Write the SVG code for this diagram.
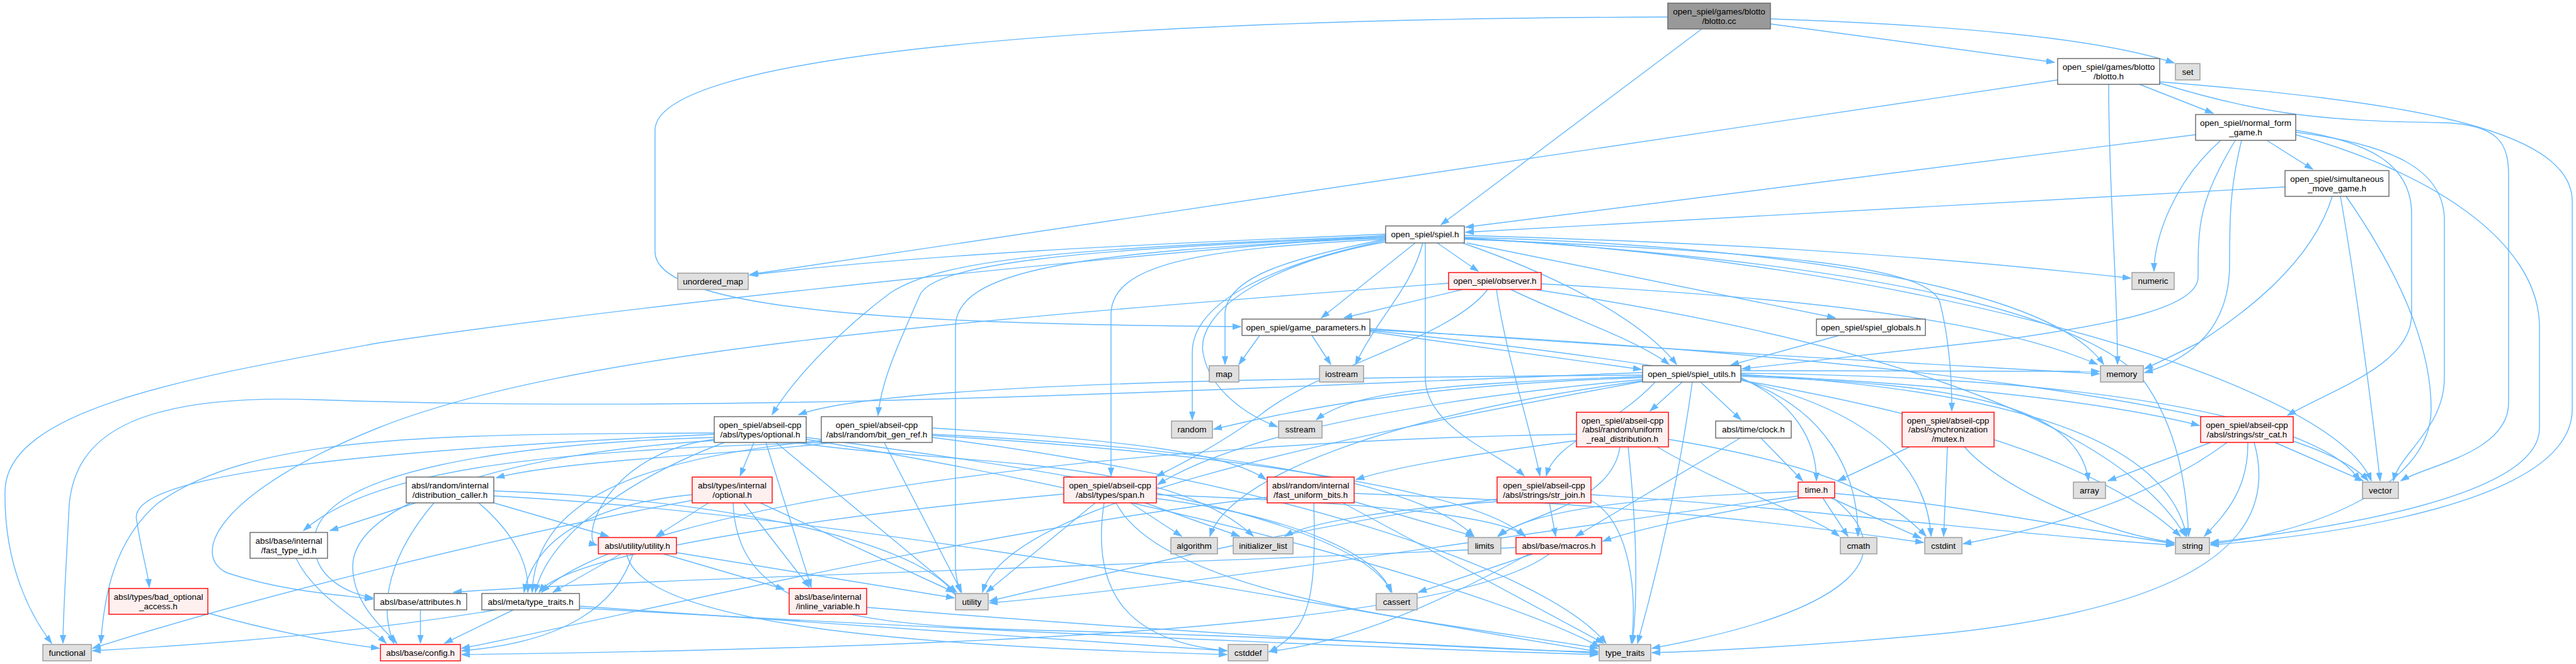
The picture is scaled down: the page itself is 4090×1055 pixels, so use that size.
<svg xmlns="http://www.w3.org/2000/svg" width="4090" height="1055" viewBox="0 0 4090 1055">
<style>
rect{stroke-width:1.4}
.w{fill:#ffffff;stroke:#666666}
.r{fill:#fff0f0;stroke:#ff0000}
.g{fill:#e0e0e0;stroke:#999999}
.k{fill:#999999;stroke:#666666}
text{font-family:"Liberation Sans",Arial,sans-serif;font-size:13.5px;fill:#000000;text-anchor:middle}
.e{fill:none;stroke:#63b8ff;stroke-width:1.4;marker-end:url(#ah)}
</style>
<defs>
<marker id="ah" markerUnits="userSpaceOnUse" markerWidth="14" markerHeight="10" refX="13" refY="5" orient="auto"><path d="M0,0.5 L13,5 L0,9.5 Z" fill="#63b8ff" stroke="#63b8ff" stroke-width="1"/></marker>
</defs>
<rect x="0" y="0" width="4090" height="1055" fill="#ffffff"/>
<g id="edges">
<path class="e" d="M2811,38 L3262,99"/>
<path class="e" d="M2811,30 C3100,40 3330,60 3452,100"/>
<path class="e" d="M2702,46 L2288,357"/>
<path class="e" d="M2648,27 C1700,30 1040,90 1040,207 L1040,400 C1040,500 1500,515 1970,519"/>
<path class="e" d="M3267,127 L1191,436"/>
<path class="e" d="M3348,134 C3348,300 3362,450 3362,579"/>
<path class="e" d="M3397,134 L3514,180"/>
<path class="e" d="M3429,132 C3600,185 3700,192 3880,195 C3970,198 3983,230 3983,280 L3983,640 C3983,720 3850,740 3812,764"/>
<path class="e" d="M3429,130 C3800,160 4084,200 4084,320 L4084,650 C4084,800 3700,850 3510,866"/>
<path class="e" d="M3486,214 L2327,361"/>
<path class="e" d="M3526,223 C3450,290 3420,380 3420,431"/>
<path class="e" d="M3599,223 L3672,269"/>
<path class="e" d="M3549,223 C3490,320 3490,360 3490,440 C3490,490 3350,515 3201,537 L2766,586"/>
<path class="e" d="M3559,223 C3540,300 3540,350 3540,420 C3540,520 3480,570 3405,592"/>
<path class="e" d="M3645,207 C3760,225 3829,260 3829,340 L3829,500 C3829,580 3700,620 3632,660"/>
<path class="e" d="M3645,210 C3800,230 3881,270 3881,350 L3881,600 C3881,680 3810,720 3800,764"/>
<path class="e" d="M3645,214 C3850,270 4032,380 4032,520 L4032,680 C4032,790 3700,840 3510,862"/>
<path class="e" d="M3628,297 L2327,369"/>
<path class="e" d="M3703,312 C3670,420 3560,500 3490,545 C3450,565 3430,575 3405,586"/>
<path class="e" d="M3716,312 C3740,450 3760,600 3779,764"/>
<path class="e" d="M3725,312 C3800,420 3860,540 3860,650 C3860,780 3650,850 3510,864"/>
<path class="e" d="M2200,372 C1900,385 1500,400 1190,437"/>
<path class="e" d="M2200,374 C1600,420 900,500 600,545 C300,600 10,650 8,780 C6,900 50,980 82,1022"/>
<path class="e" d="M2325,374 C2700,385 3000,400 3383,442"/>
<path class="e" d="M2247,386 L2098,505"/>
<path class="e" d="M2282,386 L2347,431"/>
<path class="e" d="M2329,386 L2914,505"/>
<path class="e" d="M2322,386 C2450,430 2600,500 2662,579"/>
<path class="e" d="M2259,386 C2240,460 2190,500 2152,579"/>
<path class="e" d="M2263,386 L2263,600 C2263,680 2380,720 2420,756"/>
<path class="e" d="M2200,380 C2050,410 1945,440 1945,500 L1945,579"/>
<path class="e" d="M2200,382 C2020,420 1893,480 1893,560 L1893,667"/>
<path class="e" d="M2202,384 C2000,420 1900,500 1910,560 C1920,620 1980,660 2028,678"/>
<path class="e" d="M2200,378 C1700,400 1517,430 1517,520 L1517,900 C1517,920 1522,930 1525,941"/>
<path class="e" d="M2200,380 C1900,395 1764,420 1764,500 L1764,756"/>
<path class="e" d="M2200,375 C1700,395 1500,410 1414,465 C1340,520 1260,600 1226,659"/>
<path class="e" d="M2200,377 C1700,395 1480,420 1460,470 C1430,540 1400,600 1394,660"/>
<path class="e" d="M2325,380 C2800,400 3060,420 3080,480 C3095,540 3099,600 3099,653"/>
<path class="e" d="M2325,377 C2800,390 3250,450 3340,579"/>
<path class="e" d="M2325,378 C3000,420 3300,500 3400,600 C3460,680 3472,780 3475,852"/>
<path class="e" d="M2325,379 C3000,410 3700,600 3765,764"/>
<path class="e" d="M2322,460 L2134,505"/>
<path class="e" d="M2362,460 C2300,540 2100,580 2000,660 C1930,710 1870,740 1836,757"/>
<path class="e" d="M2376,460 C2390,560 2430,680 2445,756"/>
<path class="e" d="M2399,460 C2480,500 2600,540 2650,579"/>
<path class="e" d="M2300,450 C1500,510 900,560 600,680 C350,780 300,880 360,910 C450,940 540,945 592,952"/>
<path class="e" d="M2447,451 C2800,470 3150,500 3330,579"/>
<path class="e" d="M2437,460 C2900,530 3350,650 3470,852"/>
<path class="e" d="M2000,533 L1967,579"/>
<path class="e" d="M2083,533 L2113,579"/>
<path class="e" d="M2175,527 L2606,587"/>
<path class="e" d="M2175,522 C2700,560 3100,580 3333,594"/>
<path class="e" d="M2175,525 C2900,600 3300,700 3462,852"/>
<path class="e" d="M2175,524 C2900,560 3650,640 3760,764"/>
<path class="e" d="M2920,533 L2748,580"/>
<path class="e" d="M2608,592 C2000,614 1200,660 500,635 C200,625 120,700 110,800 C105,900 100,980 100,1022"/>
<path class="e" d="M2608,598 C2300,610 2150,620 2090,667"/>
<path class="e" d="M2608,596 C2000,600 1400,610 1268,659"/>
<path class="e" d="M2608,600 C2300,610 2100,640 1927,682"/>
<path class="e" d="M2608,603 C2200,640 1950,700 1838,770"/>
<path class="e" d="M2628,607 C2560,680 2470,700 2455,756"/>
<path class="e" d="M2671,607 L2620,653"/>
<path class="e" d="M2700,607 L2764,667"/>
<path class="e" d="M2687,607 C2660,800 2620,950 2600,1022"/>
<path class="e" d="M2764,600 C2850,640 2884,700 2884,764"/>
<path class="e" d="M2764,602 C2900,650 2950,750 2950,852"/>
<path class="e" d="M2764,604 C3000,660 3060,760 3066,852"/>
<path class="e" d="M2764,598 C3100,610 3300,640 3316,764"/>
<path class="e" d="M2764,596 C3100,610 3350,640 3492,676"/>
<path class="e" d="M2764,595 C3200,620 3440,700 3472,852"/>
<path class="e" d="M2764,593 C3400,600 3700,680 3746,764"/>
<path class="e" d="M2764,589 L3333,590"/>
<path class="e" d="M2608,605 C2200,660 1950,760 1921,852"/>
<path class="e" d="M2608,606 C2100,700 1600,800 1560,941"/>
<path class="e" d="M1197,703 L1175,756"/>
<path class="e" d="M1216,703 L1288,933"/>
<path class="e" d="M1232,703 L1519,941"/>
<path class="e" d="M1134,690 C500,720 200,760 217,827 C225,880 235,910 237,933"/>
<path class="e" d="M1134,695 C800,705 520,750 500,850 C490,920 560,945 592,950"/>
<path class="e" d="M1134,688 C700,690 400,690 250,800 C180,860 165,950 160,1022"/>
<path class="e" d="M1263,703 C1500,740 1850,720 1990,852"/>
<path class="e" d="M1280,695 C1700,750 2150,820 2210,941"/>
<path class="e" d="M1280,698 C1900,800 2400,950 2540,1028"/>
<path class="e" d="M1134,700 C800,720 560,800 560,900 C560,960 610,1000 630,1022"/>
<path class="e" d="M1134,698 C960,720 920,860 948,866"/>
<path class="e" d="M1150,703 C1000,760 870,850 850,941"/>
<path class="e" d="M1322,703 C1200,720 900,730 788,759"/>
<path class="e" d="M1310,703 C900,715 600,740 482,843"/>
<path class="e" d="M1404,703 L1527,941"/>
<path class="e" d="M1480,690 C1900,710 2250,760 2340,852"/>
<path class="e" d="M1480,695 C2000,760 2450,900 2550,1022"/>
<path class="e" d="M1480,692 C1950,720 2350,780 2420,852"/>
<path class="e" d="M1304,700 C1000,730 850,800 845,941"/>
<path class="e" d="M1480,680 C1800,700 1950,720 2010,762"/>
<path class="e" d="M660,799 L524,843"/>
<path class="e" d="M689,799 C620,880 600,960 625,1022"/>
<path class="e" d="M784,799 L966,852"/>
<path class="e" d="M760,799 C820,850 840,900 838,941"/>
<path class="e" d="M784,780 C1100,790 1450,850 1517,945"/>
<path class="e" d="M784,788 C1400,820 2300,1000 2537,1035"/>
<path class="e" d="M470,887 C500,950 580,990 613,1022"/>
<path class="e" d="M1125,799 L1042,852"/>
<path class="e" d="M1181,799 L1285,933"/>
<path class="e" d="M1207,799 L1515,941"/>
<path class="e" d="M1099,786 C950,800 850,850 832,941"/>
<path class="e" d="M1099,795 C800,850 400,950 147,1030"/>
<path class="e" d="M1164,799 C1170,950 1300,990 1600,1000 C2000,1010 2400,1030 2537,1038"/>
<path class="e" d="M1053,880 L1245,936"/>
<path class="e" d="M1074,878 L1515,950"/>
<path class="e" d="M986,880 L878,941"/>
<path class="e" d="M1005,880 C980,960 900,1020 733,1034"/>
<path class="e" d="M995,880 C1020,1010 1600,1030 1948,1040"/>
<path class="e" d="M667.5,969 L667.5,1022"/>
<path class="e" d="M788,969 C600,1000 400,1020 147,1034"/>
<path class="e" d="M815,969 L706,1022"/>
<path class="e" d="M920,963 C1300,990 1700,1020 1948,1034"/>
<path class="e" d="M920,966 C1500,1000 2200,1030 2537,1040"/>
<path class="e" d="M330,974 C420,1000 520,1020 602,1030"/>
<path class="e" d="M1376,965 C1800,1000 2300,1030 2537,1036"/>
<path class="e" d="M1739,799 L1566,941"/>
<path class="e" d="M1753,799 C1730,950 1800,1020 1948,1034"/>
<path class="e" d="M1795,799 L1876,852"/>
<path class="e" d="M1818,799 L1968,852"/>
<path class="e" d="M1772,799 C1850,950 2300,990 2537,1030"/>
<path class="e" d="M1836,786 C2200,800 2380,820 2422,852"/>
<path class="e" d="M1836,792 C2050,820 2190,880 2208,941"/>
<path class="e" d="M1689,785 C1300,820 900,880 856,941"/>
<path class="e" d="M2150,797 L2340,852"/>
<path class="e" d="M2150,784 C2600,800 2900,840 3054,862"/>
<path class="e" d="M2132,799 L2546,1022"/>
<path class="e" d="M2086,799 C2090,950 2080,1000 2015,1036"/>
<path class="e" d="M2012,790 C1500,850 900,1000 733,1030"/>
<path class="e" d="M2503,700 C2350,720 2220,740 2153,762"/>
<path class="e" d="M2631,710 C2750,780 2880,820 2920,852"/>
<path class="e" d="M2649,698 C2900,740 3000,790 3058,852"/>
<path class="e" d="M2572,710 C2560,800 2420,820 2378,852"/>
<path class="e" d="M2585,710 C2600,850 2600,950 2592,1022"/>
<path class="e" d="M2503,690 C1800,700 1000,800 860,941"/>
<path class="e" d="M2796,696 L2862,764"/>
<path class="e" d="M2763,696 L2502,852"/>
<path class="e" d="M3032,710 L2918,764"/>
<path class="e" d="M3092,710 L3086,852"/>
<path class="e" d="M3119,710 C3180,780 3350,850 3452,862"/>
<path class="e" d="M3510,703 L3347,764"/>
<path class="e" d="M3536,703 C3420,790 3250,840 3117,864"/>
<path class="e" d="M3569,703 C3570,780 3530,820 3500,852"/>
<path class="e" d="M3579,703 C3620,850 3500,960 3100,1005 C2900,1025 2700,1035 2623,1037"/>
<path class="e" d="M3612,703 L3752,764"/>
<path class="e" d="M2460,799 L2470,852"/>
<path class="e" d="M2526,786 C2900,810 3200,850 3452,866"/>
<path class="e" d="M2526,795 C2590,830 2600,950 2590,1022"/>
<path class="e" d="M2377,793 C2100,830 1800,900 1571,955"/>
<path class="e" d="M2377,797 C2200,810 2080,830 2040,852"/>
<path class="e" d="M2860,791 C2700,820 2600,840 2545,860"/>
<path class="e" d="M2855,781 C2600,790 2430,810 2380,852"/>
<path class="e" d="M2894,791 L2934,852"/>
<path class="e" d="M2907,791 L3050,855"/>
<path class="e" d="M2913,784 C3100,800 3300,840 3452,864"/>
<path class="e" d="M2913,793 C3020,880 2950,970 2623,1030"/>
<path class="e" d="M2855,788 C2400,850 1900,930 1571,958"/>
<path class="e" d="M2434,880 L2252,941"/>
<path class="e" d="M2428,880 C2300,950 2150,1020 2015,1035"/>
<path class="e" d="M2407,870 C1800,900 1000,920 720,941"/>
<path class="e" d="M2460,880 C2300,1000 1500,1030 733,1040"/>
</g>
<g id="nodes">
<g id="n_blotto_cc"><rect class="k" x="2648" y="5" width="163" height="41"/><text x="2729.5" y="22.9">open_spiel/games/blotto</text><text x="2729.5" y="37.5">/blotto.cc</text></g>
<g id="n_blotto_h"><rect class="w" x="3267" y="93" width="162" height="41"/><text x="3348" y="110.9">open_spiel/games/blotto</text><text x="3348" y="125.5">/blotto.h</text></g>
<g id="n_set"><rect class="g" x="3454" y="101" width="39" height="26"/><text x="3473.5" y="118.7">set</text></g>
<g id="n_normal_form"><rect class="w" x="3486" y="182" width="159" height="41"/><text x="3565.5" y="199.9">open_spiel/normal_form</text><text x="3565.5" y="214.5">_game.h</text></g>
<g id="n_simultaneous"><rect class="w" x="3628" y="271" width="165" height="41"/><text x="3710.5" y="288.9">open_spiel/simultaneous</text><text x="3710.5" y="303.5">_move_game.h</text></g>
<g id="n_spiel_h"><rect class="w" x="2200" y="359" width="125" height="27"/><text x="2262.5" y="377.2">open_spiel/spiel.h</text></g>
<g id="n_unordered_map"><rect class="g" x="1076" y="434" width="112" height="26"/><text x="1132" y="451.7">unordered_map</text></g>
<g id="n_observer"><rect class="r" x="2300" y="433" width="147" height="27"/><text x="2373.5" y="451.2">open_spiel/observer.h</text></g>
<g id="n_numeric"><rect class="g" x="3385" y="433" width="67" height="27"/><text x="3418.5" y="451.2">numeric</text></g>
<g id="n_game_parameters"><rect class="w" x="1972" y="507" width="203" height="26"/><text x="2073.5" y="524.7">open_spiel/game_parameters.h</text></g>
<g id="n_spiel_globals"><rect class="w" x="2884" y="507" width="173" height="26"/><text x="2970.5" y="524.7">open_spiel/spiel_globals.h</text></g>
<g id="n_map"><rect class="g" x="1920" y="581" width="47" height="26"/><text x="1943.5" y="598.7">map</text></g>
<g id="n_iostream"><rect class="g" x="2095" y="581" width="70" height="26"/><text x="2130" y="598.7">iostream</text></g>
<g id="n_spiel_utils"><rect class="w" x="2608" y="581" width="156" height="26"/><text x="2686" y="598.7">open_spiel/spiel_utils.h</text></g>
<g id="n_memory"><rect class="g" x="3335" y="581" width="68" height="26"/><text x="3369" y="598.7">memory</text></g>
<g id="n_optional"><rect class="w" x="1134" y="662" width="146" height="41"/><text x="1207" y="679.9">open_spiel/abseil-cpp</text><text x="1207" y="694.5">/absl/types/optional.h</text></g>
<g id="n_bit_gen_ref"><rect class="w" x="1304" y="662" width="176" height="41"/><text x="1392" y="679.9">open_spiel/abseil-cpp</text><text x="1392" y="694.5">/absl/random/bit_gen_ref.h</text></g>
<g id="n_random"><rect class="g" x="1860" y="669" width="65" height="27"/><text x="1892.5" y="687.2">random</text></g>
<g id="n_sstream"><rect class="g" x="2030" y="669" width="69" height="27"/><text x="2064.5" y="687.2">sstream</text></g>
<g id="n_uniform_real"><rect class="r" x="2503" y="655" width="146" height="55"/><text x="2576" y="672.6">open_spiel/abseil-cpp</text><text x="2576" y="687.2">/absl/random/uniform</text><text x="2576" y="701.8">_real_distribution.h</text></g>
<g id="n_clock"><rect class="w" x="2724" y="669" width="120" height="27"/><text x="2784" y="687.2">absl/time/clock.h</text></g>
<g id="n_mutex"><rect class="r" x="3020" y="655" width="146" height="55"/><text x="3093" y="672.6">open_spiel/abseil-cpp</text><text x="3093" y="687.2">/absl/synchronization</text><text x="3093" y="701.8">/mutex.h</text></g>
<g id="n_str_cat"><rect class="r" x="3494" y="662" width="147" height="41"/><text x="3567.5" y="679.9">open_spiel/abseil-cpp</text><text x="3567.5" y="694.5">/absl/strings/str_cat.h</text></g>
<g id="n_distribution_caller"><rect class="w" x="645" y="758" width="139" height="41"/><text x="714.5" y="775.9">absl/random/internal</text><text x="714.5" y="790.5">/distribution_caller.h</text></g>
<g id="n_internal_optional"><rect class="r" x="1099" y="758" width="127" height="41"/><text x="1162.5" y="775.9">absl/types/internal</text><text x="1162.5" y="790.5">/optional.h</text></g>
<g id="n_span"><rect class="r" x="1689" y="758" width="147" height="41"/><text x="1762.5" y="775.9">open_spiel/abseil-cpp</text><text x="1762.5" y="790.5">/absl/types/span.h</text></g>
<g id="n_fast_uniform_bits"><rect class="r" x="2012" y="758" width="138" height="41"/><text x="2081" y="775.9">absl/random/internal</text><text x="2081" y="790.5">/fast_uniform_bits.h</text></g>
<g id="n_str_join"><rect class="r" x="2377" y="758" width="149" height="41"/><text x="2451.5" y="775.9">open_spiel/abseil-cpp</text><text x="2451.5" y="790.5">/absl/strings/str_join.h</text></g>
<g id="n_time"><rect class="r" x="2855" y="766" width="58" height="25"/><text x="2884" y="783.2">time.h</text></g>
<g id="n_array"><rect class="g" x="3292" y="766" width="51" height="26"/><text x="3317.5" y="783.7">array</text></g>
<g id="n_vector"><rect class="g" x="3751" y="766" width="57" height="26"/><text x="3779.5" y="783.7">vector</text></g>
<g id="n_fast_type_id"><rect class="w" x="397" y="846" width="123" height="41"/><text x="458.5" y="863.9">absl/base/internal</text><text x="458.5" y="878.5">/fast_type_id.h</text></g>
<g id="n_utility_h"><rect class="r" x="950" y="854" width="124" height="26"/><text x="1012" y="871.7">absl/utility/utility.h</text></g>
<g id="n_algorithm"><rect class="g" x="1859" y="854" width="74" height="26"/><text x="1896" y="871.7">algorithm</text></g>
<g id="n_initializer_list"><rect class="g" x="1958" y="854" width="95" height="26"/><text x="2005.5" y="871.7">initializer_list</text></g>
<g id="n_limits"><rect class="g" x="2331" y="854" width="52" height="26"/><text x="2357" y="871.7">limits</text></g>
<g id="n_macros"><rect class="r" x="2407" y="854" width="136" height="26"/><text x="2475" y="871.7">absl/base/macros.h</text></g>
<g id="n_cmath"><rect class="g" x="2922" y="854" width="58" height="26"/><text x="2951" y="871.7">cmath</text></g>
<g id="n_cstdint"><rect class="g" x="3056" y="854" width="59" height="26"/><text x="3085.5" y="871.7">cstdint</text></g>
<g id="n_string"><rect class="g" x="3454" y="854" width="54" height="26"/><text x="3481" y="871.7">string</text></g>
<g id="n_bad_optional"><rect class="r" x="173" y="935" width="157" height="41"/><text x="251.5" y="952.9">absl/types/bad_optional</text><text x="251.5" y="967.5">_access.h</text></g>
<g id="n_attributes"><rect class="w" x="594" y="943" width="147" height="26"/><text x="667.5" y="960.7">absl/base/attributes.h</text></g>
<g id="n_meta_type_traits"><rect class="w" x="765" y="943" width="155" height="26"/><text x="842.5" y="960.7">absl/meta/type_traits.h</text></g>
<g id="n_inline_variable"><rect class="r" x="1253" y="935" width="123" height="41"/><text x="1314.5" y="952.9">absl/base/internal</text><text x="1314.5" y="967.5">/inline_variable.h</text></g>
<g id="n_utility"><rect class="g" x="1517" y="943" width="52" height="26"/><text x="1543" y="960.7">utility</text></g>
<g id="n_cassert"><rect class="g" x="2185" y="943" width="65" height="26"/><text x="2217.5" y="960.7">cassert</text></g>
<g id="n_functional"><rect class="g" x="68" y="1024" width="77" height="26"/><text x="106.5" y="1041.7">functional</text></g>
<g id="n_config"><rect class="r" x="604" y="1024" width="127" height="26"/><text x="667.5" y="1041.7">absl/base/config.h</text></g>
<g id="n_cstddef"><rect class="g" x="1950" y="1024" width="63" height="26"/><text x="1981.5" y="1041.7">cstddef</text></g>
<g id="n_type_traits"><rect class="g" x="2539" y="1024" width="82" height="26"/><text x="2580" y="1041.7">type_traits</text></g>
</g>
</svg>
